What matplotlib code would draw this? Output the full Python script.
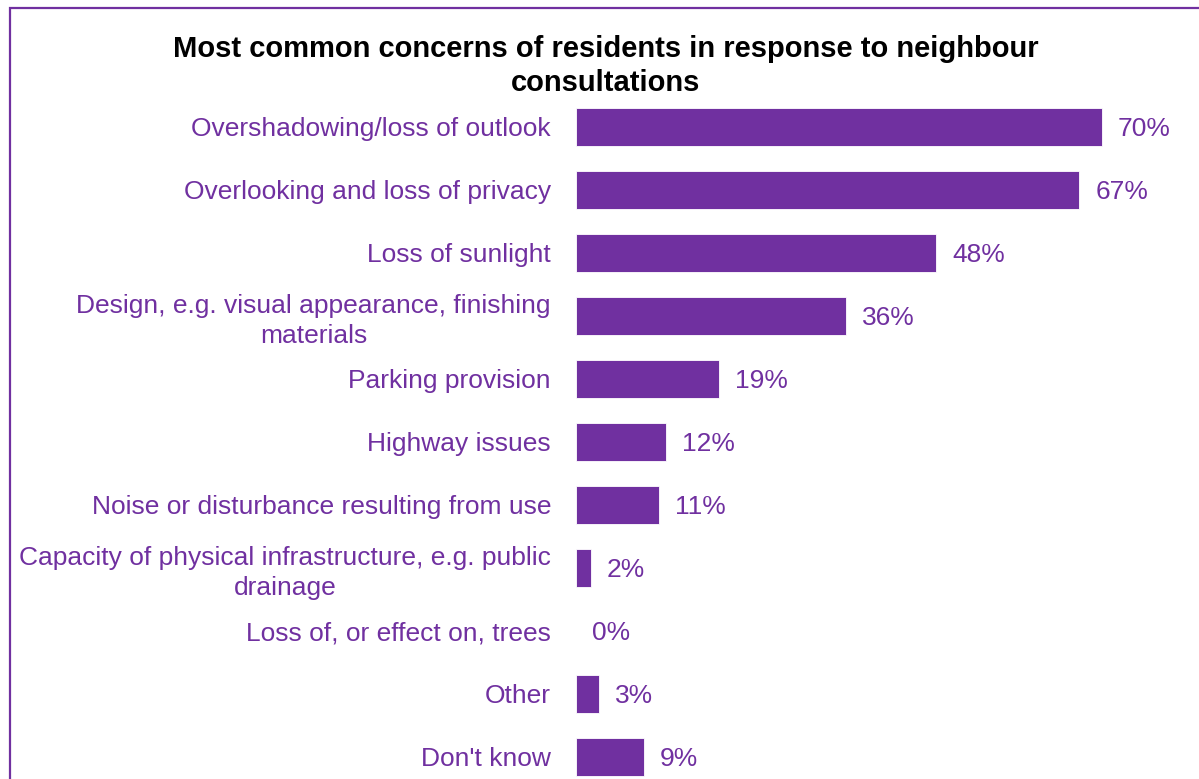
import matplotlib
matplotlib.use("Agg")
import matplotlib.pyplot as plt
from matplotlib.patches import Rectangle

plt.rcParams['font.family'] = ['Liberation Sans', 'DejaVu Sans']

categories = [
    "Overshadowing/loss of outlook",
    "Overlooking and loss of privacy",
    "Loss of sunlight",
    "Design, e.g. visual appearance, finishing\nmaterials",
    "Parking provision",
    "Highway issues",
    "Noise or disturbance resulting from use",
    "Capacity of physical infrastructure, e.g. public\ndrainage",
    "Loss of, or effect on, trees",
    "Other",
    "Don't know",
]
values = [70, 67, 48, 36, 19, 12, 11, 2, 0, 3, 9]
title = "Most common concerns of residents in response to neighbour\nconsultations"

purple = "#7030A0"
W, H = 1199, 779
fig = plt.figure(figsize=(W / 100, H / 100), dpi=100)

# plot area: bars start at x=576 px, 1% = 7.51 px, rows every 63 px from y=127
left_px = 576
px_per_pct = 7.51
ax = fig.add_axes([left_px / W, 0, (W - left_px) / W, 1])
ax.set_xlim(0, (W - left_px) / px_per_pct)
ax.set_ylim((H - 127) / 63, -127 / 63)

ypos = list(range(len(categories)))
ax.barh(ypos, values, height=0.59, color=purple, edgecolor="white", linewidth=0.6)

for y, v in zip(ypos, values):
    ax.annotate(f"{v}%", xy=(v, y), xytext=(11.5, 0), textcoords="offset points",
                ha="left", va="center_baseline", fontsize=19, color=purple)

ax.set_yticks(ypos)
ax.set_yticklabels(categories, fontsize=19, color=purple)
for lbl in ax.get_yticklabels():
    lbl.set_multialignment("center")
    lbl.set_linespacing(1.3)
ax.tick_params(axis="y", length=0, pad=18)
ax.set_xticks([])
for s in ax.spines.values():
    s.set_visible(False)
ax.patch.set_alpha(0)

fig.text(606 / W, 1 - 66 / H, title, ha="center", va="center",
         fontsize=21, fontweight="bold", color="black", linespacing=1.25)

# purple frame around the chart
fig.patches.append(Rectangle((9.5 / W, -0.1), 1.2, 1.1 - 8.5 / H, transform=fig.transFigure,
                             fill=False, edgecolor=purple, linewidth=1.6, zorder=10))

fig.savefig("out.png", dpi=100)
